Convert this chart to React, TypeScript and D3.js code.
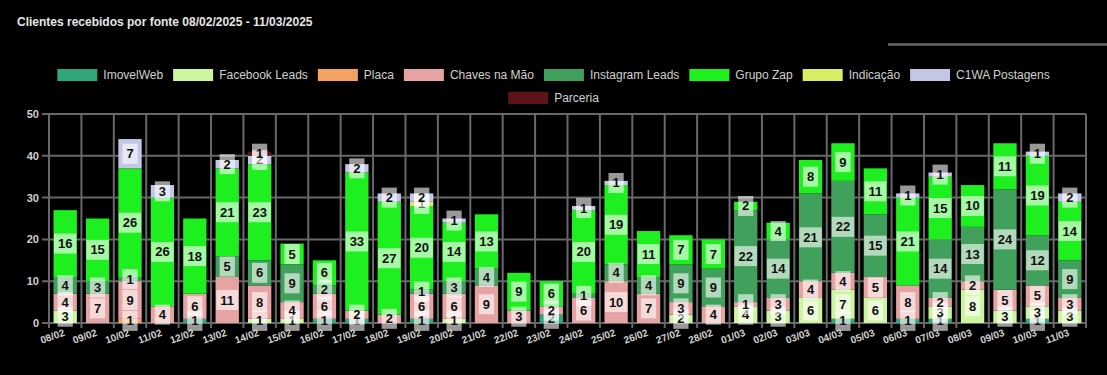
import { useEffect, useRef } from 'react';
import * as d3 from 'd3';

const W = 1107;
const H = 375;

const TITLE = 'Clientes recebidos por fonte 08/02/2025 - 11/03/2025';

const dates = [
  '08/02', '09/02', '10/02', '11/02', '12/02', '13/02', '14/02', '15/02',
  '16/02', '17/02', '18/02', '19/02', '20/02', '21/02', '22/02', '23/02',
  '24/02', '25/02', '26/02', '27/02', '28/02', '01/03', '02/03', '03/03',
  '04/03', '05/03', '06/03', '07/03', '08/03', '09/03', '10/03', '11/03',
];

const imovelWeb = [0, 0, 0, 0, 1, 0, 0, 0, 1, 1, 0, 1, 0, 0, 0, 2, 0, 0, 0, 0, 0, 0, 0, 0, 1, 0, 1, 1, 0, 0, 1, 0];
const facebookLeads = [3, 0, 0, 0, 0, 0, 1, 1, 0, 0, 0, 0, 1, 0, 0, 0, 0, 0, 0, 2, 0, 4, 3, 6, 7, 6, 0, 3, 8, 3, 3, 3];
const placa = [0, 0, 1, 0, 0, 0, 0, 0, 0, 0, 0, 0, 0, 0, 0, 0, 0, 0, 0, 0, 0, 0, 0, 0, 0, 0, 0, 0, 0, 0, 0, 0];
const chavesNaMao = [4, 7, 9, 4, 6, 11, 8, 4, 6, 2, 2, 6, 6, 9, 3, 2, 6, 10, 7, 3, 4, 1, 3, 4, 4, 5, 8, 2, 2, 5, 5, 3];
const instagramLeads = [4, 3, 1, 0, 0, 5, 6, 9, 2, 0, 0, 1, 3, 4, 0, 0, 1, 4, 4, 9, 9, 22, 14, 21, 22, 15, 0, 14, 13, 24, 12, 9];
const grupoZap = [16, 15, 26, 26, 18, 21, 23, 5, 6, 33, 27, 20, 14, 13, 9, 6, 20, 19, 11, 7, 7, 2, 4, 8, 9, 11, 21, 15, 10, 11, 19, 14];
const indicacao = [0, 0, 0, 0, 0, 0, 0, 0, 0, 0, 0, 1, 0, 0, 0, 0, 0, 0, 0, 0, 0, 0, 0, 0, 0, 0, 0, 0, 0, 0, 0, 0];
const c1waPostagens = [0, 0, 7, 3, 0, 2, 2, 0, 0, 2, 2, 2, 1, 0, 0, 0, 1, 1, 0, 0, 0, 0, 0, 0, 0, 0, 1, 1, 0, 0, 1, 2];
const parceria = [0, 0, 0, 0, 0, 0, 1, 0, 0, 0, 0, 0, 0, 0, 0, 0, 0, 0, 0, 0, 0, 0, 0, 0, 0, 0, 0, 0, 0, 0, 0, 0];

const yTicks = [0, 10, 20, 30, 40, 50];

const SERIES = [
  { name: 'ImovelWeb', values: imovelWeb, color: '#2ea87a' },
  { name: 'Facebook Leads', values: facebookLeads, color: '#cdf5a0' },
  { name: 'Placa', values: placa, color: '#f4a261' },
  { name: 'Chaves na Mão', values: chavesNaMao, color: '#e6a3a3' },
  { name: 'Instagram Leads', values: instagramLeads, color: '#41a05b' },
  { name: 'Grupo Zap', values: grupoZap, color: '#1eef1e' },
  { name: 'Indicação', values: indicacao, color: '#d8ec64' },
  { name: 'C1WA Postagens', values: c1waPostagens, color: '#c4c6e6' },
  { name: 'Parceria', values: parceria, color: '#5c1418' },
];

const FONT = '"Liberation Sans", Arial, sans-serif';
const GRID = '#686868';
const TEXT = '#d0d0d0';

export default function App() {
  const svgRef = useRef<SVGSVGElement>(null);

  useEffect(() => {
    if (!svgRef.current) return;
    const svg = d3.select(svgRef.current);
    svg.selectAll('*').remove();

    svg.append('rect').attr('width', W).attr('height', H).attr('fill', '#000');

    // Title
    svg.append('text')
      .attr('x', 17)
      .attr('y', 26)
      .attr('fill', '#e6e6e6')
      .attr('font-family', FONT)
      .attr('font-size', 12)
      .attr('font-weight', 'bold')
      .text(TITLE);

    // stray line top right
    svg.append('line')
      .attr('x1', 888).attr('x2', W)
      .attr('y1', 44.5).attr('y2', 44.5)
      .attr('stroke', '#666').attr('stroke-width', 2.5);

    // Legend (centered rows, chart.js style)
    const boxW = 40;
    const boxH = 12;
    const legendPad = 10;
    const legend = svg.append('g').attr('font-family', FONT).attr('font-size', 12);
    const items = SERIES.map((s) => {
      const t = legend.append('text').attr('fill', TEXT).text(s.name);
      const tw = (t.node() as SVGTextElement).getComputedTextLength();
      return { s, t, w: boxW + 6 + tw };
    });
    const maxRow = W - 100;
    const rows: typeof items[] = [[]];
    let rowW = 0;
    items.forEach((it) => {
      if (rowW + it.w + legendPad > maxRow && rows[rows.length - 1].length) {
        rows.push([]);
        rowW = 0;
      }
      rows[rows.length - 1].push(it);
      rowW += it.w + legendPad;
    });
    rows.forEach((row, ri) => {
      const total = d3.sum(row, (d) => d.w) + legendPad * (row.length - 1);
      let x = (W - total) / 2;
      const cy = 75 + ri * 23;
      row.forEach((it) => {
        legend.append('rect')
          .attr('x', x).attr('y', cy - boxH / 2)
          .attr('width', boxW).attr('height', boxH)
          .attr('fill', it.s.color);
        it.t.attr('x', x + boxW + 6).attr('y', cy).attr('dominant-baseline', 'central');
        x += it.w + legendPad;
      });
    });

    // Scales
    const left = 49;
    const right = 1086;
    const top = 114;
    const bottom = 323;

    const x = d3.scaleBand().domain(dates).range([left, right]).paddingInner(0.28).paddingOuter(0.14);
    const step = x.step();
    const y = d3.scaleLinear().domain([0, 50]).range([bottom, top]);

    const grid = svg.append('g');
    // vertical grid at category boundaries
    d3.range(dates.length + 1).forEach((i) => {
      const gx = left + i * ((right - left) / dates.length);
      grid.append('line')
        .attr('x1', gx).attr('x2', gx)
        .attr('y1', top).attr('y2', bottom + 5)
        .attr('stroke', GRID).attr('stroke-width', 2);
    });
    yTicks.forEach((t) => {
      grid.append('line')
        .attr('x1', left - 7).attr('x2', right)
        .attr('y1', y(t)).attr('y2', y(t))
        .attr('stroke', GRID).attr('stroke-width', 2);
      grid.append('text')
        .attr('x', left - 10).attr('y', y(t))
        .attr('text-anchor', 'end')
        .attr('dominant-baseline', 'central')
        .attr('fill', TEXT)
        .attr('font-family', FONT)
        .attr('font-size', 11)
        .attr('font-weight', 'bold')
        .text(t);
    });

    // Stack
    const rowsData = dates.map((d, i) => {
      const r: Record<string, number | string> = { date: d };
      SERIES.forEach((s) => { r[s.name] = s.values[i]; });
      return r;
    });
    const stack = d3.stack<Record<string, number | string>>()
      .keys(SERIES.map((s) => s.name))
      .value((d, k) => d[k] as number);
    const layers = stack(rowsData);

    const bars = svg.append('g');
    layers.forEach((layer, li) => {
      bars.selectAll(null)
        .data(layer.filter((d) => d[1] - d[0] > 0))
        .join('rect')
        .attr('x', (d) => x(d.data.date as string) as number)
        .attr('y', (d) => y(d[1]))
        .attr('width', x.bandwidth())
        .attr('height', (d) => y(d[0]) - y(d[1]))
        .attr('fill', SERIES[li].color);
    });

    // Data labels
    const labels = svg.append('g').attr('font-family', FONT).attr('font-size', 13).attr('font-weight', 'bold');
    layers.forEach((layer) => {
      layer.filter((d) => d[1] - d[0] > 0).forEach((d) => {
        const cx = (x(d.data.date as string) as number) + x.bandwidth() / 2;
        const cy = y((d[0] + d[1]) / 2);
        const g = labels.append('g');
        const t = g.append('text')
          .attr('x', cx).attr('y', cy)
          .attr('text-anchor', 'middle')
          .attr('dominant-baseline', 'central')
          .attr('fill', '#111')
          .text(d[1] - d[0]);
        const tw = (t.node() as SVGTextElement).getComputedTextLength();
        g.insert('rect', 'text')
          .attr('x', cx - tw / 2 - 4).attr('y', cy - 10)
          .attr('width', tw + 8).attr('height', 20)
          .attr('fill', 'rgba(255,255,255,0.6)');
      });
    });

    // X labels
    const xl = svg.append('g').attr('font-family', FONT).attr('font-size', 10).attr('fill', TEXT);
    dates.forEach((d) => {
      const cx = (x(d) as number) + x.bandwidth() / 2;
      xl.append('text')
        .attr('transform', `translate(${cx - 1},${bottom + 9}) rotate(-20)`)
        .attr('text-anchor', 'end')
        .attr('dominant-baseline', 'central')
        .attr('font-weight', 'bold')
        .text(d);
    });
    void step;
  }, []);

  return (
    <svg
      ref={svgRef}
      width={W}
      height={H}
      style={{ position: 'absolute', left: 0, top: 0, background: '#000' }}
    />
  );
}
